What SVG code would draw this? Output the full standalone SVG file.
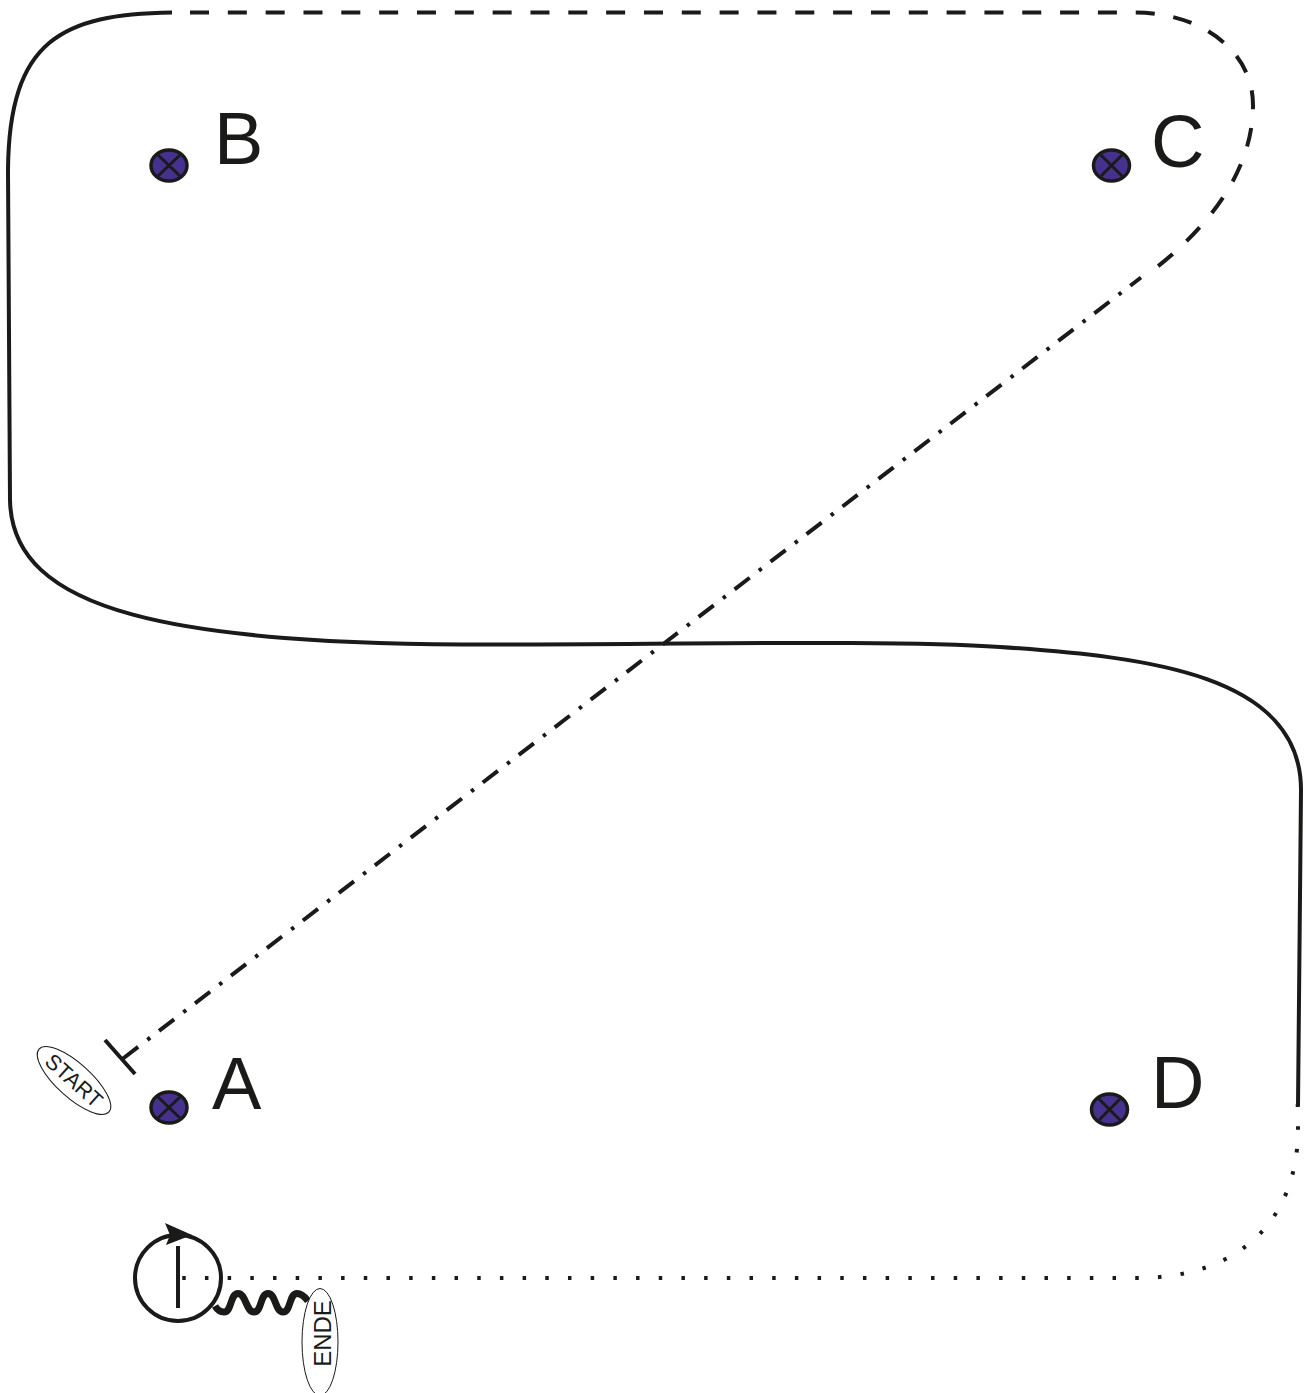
<svg xmlns="http://www.w3.org/2000/svg" width="1306" height="1393" viewBox="0 0 1306 1393">
<style>
.c{fill:none;stroke:#1a1a18}
.n{fill:#47318f;stroke:#1a1a18;stroke-width:3.5}
.x{fill:none;stroke:#1a1a18;stroke-width:3}
.t{font-family:"Liberation Sans",Arial,sans-serif;fill:#1a1a18}
.big{font-size:74px}
.o{fill:#fff;stroke:#1a1a18;stroke-width:1}
</style>
<rect width="1306" height="1393" fill="#fff"/>
<g id="connectors">
<path class="c" stroke-width="4" d="M172,12.500C62,14 9,40 8,170L10,500C12,612 170,645 500,644.500C700,644 900,640 1000,647C1150,657 1301,675 1301,790L1298,1106"/>
<path class="c" stroke-width="4" stroke-dasharray="19 18.830" d="M190,12.500L1135,12.500C1200,12.500 1253,50 1253,105C1253,170 1210,225 1157,267"/>
<path class="c" stroke-width="4" stroke-dasharray="19 11.200 3.500 11.640" stroke-dashoffset="5.500" d="M1141,277.500L122,1059.300"/>
<path class="c" stroke-width="4" d="M105,1040L135,1074"/>
<path class="c" stroke-width="4" stroke-dasharray="3.500 19.190" d="M182.250,1278L1137,1278C1245,1278 1298,1215 1298,1129L1297.700,1104"/>
<path class="c" stroke-width="7" d="M215,1306C218,1311 221,1312 224,1312C232,1312 230,1293.500 238,1293.500C246,1293.500 246,1312 254,1312C262,1312 260,1293.500 268,1293.500C276,1293.500 275,1312 283,1312C291,1312 289,1293.500 297,1293.500C302,1293.500 305,1297 308,1301"/>
</g>
<g id="loop">
<circle cx="178" cy="1278" r="43" fill="none" stroke="#1a1a18" stroke-width="4"/>
<path d="M165,1223L192,1235L166,1245L170,1235Z" fill="#1a1a18"/>
<path class="c" stroke-width="4" d="M178,1246V1308"/>
</g>
<g id="node-a"><ellipse class="n" cx="169" cy="1107.500" rx="18" ry="15.500"/><path class="x" d="M158,1097L180,1118M180,1097L158,1118"/><text class="t big" x="212" y="1109">A</text></g>
<g id="node-b"><ellipse class="n" cx="169" cy="165.500" rx="18" ry="15.500"/><path class="x" d="M158,155L180,176M180,155L158,176"/><text class="t big" x="214" y="163.500">B</text></g>
<g id="node-c"><ellipse class="n" cx="1111.500" cy="165.500" rx="18" ry="15.500"/><path class="x" d="M1101,155L1122,176M1122,155L1101,176"/><text class="t big" x="1151" y="167">C</text></g>
<g id="node-d"><ellipse class="n" cx="1109.500" cy="1109.500" rx="18" ry="15.500"/><path class="x" d="M1099,1099L1120,1120M1120,1099L1099,1120"/><text class="t big" x="1151" y="1107.500">D</text></g>
<g id="start"><ellipse class="o" cx="74" cy="1080.500" rx="47" ry="17" transform="rotate(42 74 1080.500)"/><text class="t" font-size="21.500" text-anchor="middle" transform="translate(74 1080.500) rotate(42)" y="7.500">START</text></g>
<g id="ende"><ellipse class="o" cx="320" cy="1342" rx="18" ry="53.500"/><text class="t" font-size="24" text-anchor="middle" transform="translate(331 1333.500) rotate(-90)">ENDE</text></g>
</svg>
